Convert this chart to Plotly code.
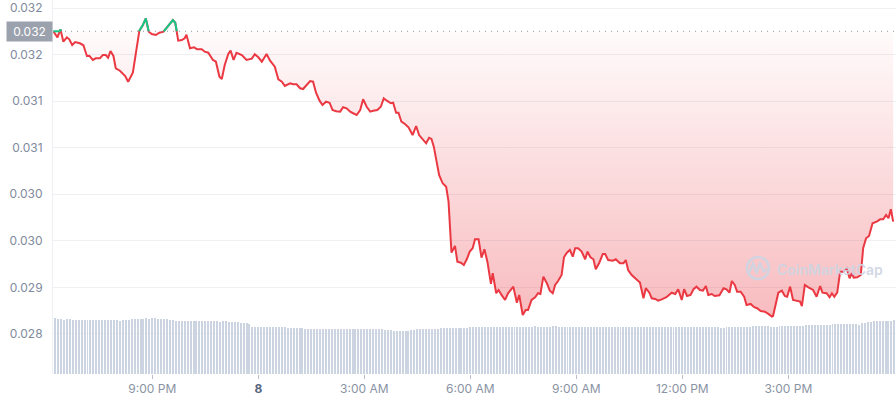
import numpy as np
import pandas as pd
import plotly.graph_objects as go

# ---------------- data ----------------
start = pd.Timestamp("2024-05-07 18:10")

# minutes after start, and price (USD)
price_minutes = [
    2, 9, 14, 19, 25, 29, 34, 39, 47, 53, 59, 63, 69, 74, 81, 86, 91, 95, 99, 104,
    108, 115, 124, 129, 137, 141, 145, 148, 154, 159, 164, 169, 176, 182, 189, 195, 200, 205, 209, 212,
    214, 220, 225, 228, 234, 241, 246, 254, 259, 265, 273, 278, 284, 288, 293, 299, 303, 308, 313, 322,
    330, 339, 344, 350, 356, 364, 370, 378, 384, 390, 395, 404, 409, 415, 421, 426, 432, 438, 443, 448,
    454, 459, 465, 471, 476, 482, 489, 494, 500, 506, 511, 517, 523, 528, 534, 540, 545, 552, 558, 563,
    569, 575, 579, 584, 588, 593, 599, 605, 612, 618, 623, 629, 635, 640, 644, 648, 653, 657, 663, 669,
    673, 675, 678, 684, 688, 694, 699, 704, 709, 714, 718, 724, 729, 734, 739, 745, 748, 754, 758, 763,
    769, 774, 783, 789, 793, 799, 804, 808, 814, 820, 825, 829, 834, 840, 845, 850, 854, 859, 865, 869,
    874, 879, 884, 888, 893, 899, 905, 909, 914, 919, 923, 929, 935, 939, 944, 952, 957, 964, 970, 974,
    978, 984, 991, 998, 1004, 1008, 1014, 1018, 1024, 1029, 1035, 1043, 1052, 1058, 1063, 1069, 1073, 1078, 1084, 1089,
    1094, 1100, 1105, 1110, 1114, 1120, 1125, 1133, 1140, 1145, 1150, 1154, 1159, 1163, 1169, 1175, 1179, 1186, 1192, 1197,
    1203, 1210, 1216, 1222, 1224, 1229, 1233, 1239, 1244, 1248, 1253, 1258, 1265, 1270, 1273, 1278, 1284, 1292, 1298, 1304,
    1308, 1315, 1320, 1324, 1328, 1333, 1338, 1343, 1349, 1354, 1358, 1361, 1367, 1373, 1377, 1382, 1387, 1393, 1400, 1406,
    1411, 1416, 1420, 1424, 1428,
]
prices = [
    0.032250, 0.032185, 0.032271, 0.032138, 0.032185, 0.032164, 0.032103, 0.032135, 0.032121, 0.032100,
    0.031985, 0.031988, 0.031942, 0.031960, 0.031960, 0.031995, 0.031995, 0.031966, 0.032038, 0.031985,
    0.031853, 0.031827, 0.031770, 0.031709, 0.031805, 0.031977, 0.032156, 0.032256, 0.032317, 0.032389,
    0.032246, 0.032221, 0.032210, 0.032235, 0.032246, 0.032293, 0.032336, 0.032371, 0.032342, 0.032235,
    0.032149, 0.032156, 0.032175, 0.032213, 0.032067, 0.032078, 0.032057, 0.032057, 0.032031, 0.032020,
    0.031942, 0.031923, 0.031762, 0.031738, 0.031888, 0.032006, 0.032042, 0.031942, 0.032020, 0.031995,
    0.031942, 0.031956, 0.032003, 0.031971, 0.031923, 0.032006, 0.031934, 0.031870, 0.031734, 0.031709,
    0.031663, 0.031692, 0.031681, 0.031681, 0.031638, 0.031630, 0.031673, 0.031716, 0.031709, 0.031591,
    0.031505, 0.031459, 0.031494, 0.031483, 0.031405, 0.031391, 0.031387, 0.031434, 0.031423, 0.031387,
    0.031370, 0.031351, 0.031405, 0.031520, 0.031440, 0.031387, 0.031397, 0.031405, 0.031440, 0.031530,
    0.031502, 0.031477, 0.031483, 0.031376, 0.031376, 0.031279, 0.031255, 0.031219, 0.031136, 0.031233,
    0.031136, 0.031090, 0.031047, 0.031107, 0.031094, 0.031011, 0.030814, 0.030707, 0.030618, 0.030581,
    0.030420, 0.030224, 0.029873, 0.029945, 0.029776, 0.029765, 0.029741, 0.029802, 0.029884, 0.029920,
    0.030017, 0.030017, 0.029819, 0.029909, 0.029776, 0.029537, 0.029652, 0.029437, 0.029472, 0.029419,
    0.029365, 0.029437, 0.029508, 0.029336, 0.029419, 0.029204, 0.029258, 0.029258, 0.029365, 0.029394,
    0.029437, 0.029429, 0.029615, 0.029544, 0.029465, 0.029437, 0.029526, 0.029569, 0.029633, 0.029823,
    0.029873, 0.029902, 0.029830, 0.029920, 0.029920, 0.029884, 0.029802, 0.029884, 0.029823, 0.029802,
    0.029695, 0.029765, 0.029859, 0.029859, 0.029794, 0.029787, 0.029802, 0.029759, 0.029759, 0.029794,
    0.029687, 0.029633, 0.029587, 0.029551, 0.029383, 0.029491, 0.029443, 0.029383, 0.029376, 0.029357,
    0.029372, 0.029394, 0.029443, 0.029429, 0.029480, 0.029365, 0.029480, 0.029408, 0.029419, 0.029480,
    0.029508, 0.029472, 0.029465, 0.029515, 0.029419, 0.029429, 0.029408, 0.029415, 0.029491, 0.029480,
    0.029443, 0.029569, 0.029526, 0.029454, 0.029454, 0.029400, 0.029311, 0.029322, 0.029287, 0.029276,
    0.029247, 0.029239, 0.029215, 0.029186, 0.029193, 0.029330, 0.029443, 0.029465, 0.029408, 0.029400,
    0.029508, 0.029365, 0.029357, 0.029347, 0.029300, 0.029526, 0.029501, 0.029472, 0.029400, 0.029515,
    0.029443, 0.029437, 0.029394, 0.029437, 0.029400, 0.029443, 0.029669, 0.029669, 0.029705, 0.029598,
    0.029652, 0.029604, 0.029609, 0.029633, 0.029920, 0.030027, 0.030052, 0.030188, 0.030206, 0.030231,
    0.030231, 0.030278, 0.030242, 0.030339, 0.030206,
]

# volume, one bar every 5 minutes from start (millions USD)
vol_step_minutes = 5
volume = [
    5.6, 5.6, 5.5, 5.5, 5.4, 5.5, 5.5, 5.4, 5.4, 5.4, 5.4, 5.4, 5.4, 5.4, 5.4, 5.4,
    5.4, 5.4, 5.4, 5.4, 5.4, 5.4, 5.4, 5.3, 5.4, 5.4, 5.4, 5.5, 5.5, 5.5, 5.5, 5.5,
    5.6, 5.5, 5.6, 5.6, 5.5, 5.5, 5.5, 5.5, 5.4, 5.4, 5.3, 5.3, 5.3, 5.3, 5.3, 5.3,
    5.3, 5.3, 5.3, 5.3, 5.3, 5.3, 5.3, 5.3, 5.3, 5.2, 5.3, 5.3, 5.2, 5.2, 5.2, 5.2,
    5.1, 5.1, 5.1, 5.0, 4.7, 4.7, 4.7, 4.7, 4.7, 4.7, 4.7, 4.7, 4.7, 4.7, 4.7, 4.7,
    4.6, 4.6, 4.6, 4.6, 4.6, 4.6, 4.5, 4.5, 4.5, 4.5, 4.5, 4.5, 4.5, 4.5, 4.5, 4.5,
    4.5, 4.5, 4.5, 4.5, 4.5, 4.5, 4.5, 4.5, 4.5, 4.5, 4.5, 4.5, 4.5, 4.5, 4.5, 4.5,
    4.5, 4.4, 4.4, 4.4, 4.35, 4.35, 4.35, 4.35, 4.35, 4.35, 4.4, 4.4, 4.5, 4.5, 4.5, 4.5,
    4.5, 4.5, 4.5, 4.5, 4.6, 4.6, 4.6, 4.6, 4.6, 4.6, 4.6, 4.6, 4.6, 4.6, 4.7, 4.7,
    4.7, 4.7, 4.7, 4.7, 4.7, 4.7, 4.7, 4.7, 4.7, 4.75, 4.75, 4.7, 4.7, 4.7, 4.75, 4.75,
    4.75, 4.75, 4.75, 4.75, 4.8, 4.75, 4.75, 4.75, 4.75, 4.75, 4.8, 4.8, 4.75, 4.75, 4.75, 4.75,
    4.75, 4.75, 4.75, 4.75, 4.7, 4.7, 4.75, 4.75, 4.75, 4.7, 4.75, 4.75, 4.75, 4.75, 4.7, 4.7,
    4.75, 4.75, 4.75, 4.75, 4.75, 4.75, 4.75, 4.7, 4.7, 4.75, 4.75, 4.75, 4.75, 4.75, 4.75, 4.75,
    4.75, 4.75, 4.7, 4.7, 4.7, 4.7, 4.75, 4.75, 4.7, 4.7, 4.75, 4.75, 4.75, 4.75, 4.75, 4.75,
    4.75, 4.7, 4.7, 4.65, 4.65, 4.7, 4.7, 4.7, 4.7, 4.7, 4.75, 4.75, 4.75, 4.75, 4.8, 4.8,
    4.8, 4.8, 4.8, 4.8, 4.75, 4.75, 4.75, 4.8, 4.8, 4.8, 4.8, 4.8, 4.8, 4.85, 4.85, 4.85,
    4.95, 4.95, 4.95, 4.95, 4.95, 4.95, 4.95, 4.95, 4.95, 5.0, 5.0, 5.0, 5.0, 5.0, 5.0, 5.0,
    5.0, 5.0, 4.95, 5.1, 5.15, 5.2, 5.25, 5.3, 5.3, 5.3, 5.3, 5.35, 5.35, 5.35, 5.4, 5.4,
]

y_tickvals = [0.0325, 0.0320, 0.0315, 0.0310, 0.0305, 0.0300, 0.0295, 0.0290]
y_ticktext = ["0.032", "0.032", "0.031", "0.031", "0.030", "0.030", "0.029", "0.028"]

x_tickvals = ["2024-05-07 21:00", "2024-05-08 00:00", "2024-05-08 03:00", "2024-05-08 06:00",
              "2024-05-08 09:00", "2024-05-08 12:00", "2024-05-08 15:00"]
x_ticktext = ["9:00 PM", "<span style='color:#58667e'><b>8</b></span>", "3:00 AM", "6:00 AM",
              "9:00 AM", "12:00 PM", "3:00 PM"]

ref_label = "0.032"

# ---------------- derived ----------------
RED = "#ea3943"
GREEN = "#16c784"
FONT = "Inter, 'Noto Sans', sans-serif"

times = [start + pd.Timedelta(minutes=m) for m in price_minutes]
base = prices[0]
vol_times = [start + pd.Timedelta(minutes=vol_step_minutes * i) for i in range(len(volume))]

# green segments: parts of the line above the opening price
t_arr = np.array(price_minutes, dtype=float)
p_arr = np.array(prices, dtype=float)
gx, gy = [], []
for i in range(len(p_arr)):
    if i > 0 and (p_arr[i - 1] - base) * (p_arr[i] - base) < 0:
        f = (base - p_arr[i - 1]) / (p_arr[i] - p_arr[i - 1])
        tc = t_arr[i - 1] + f * (t_arr[i] - t_arr[i - 1])
        gx.append(start + pd.Timedelta(minutes=float(tc)))
        gy.append(base)
        if p_arr[i] < base:
            gx.append(None)
            gy.append(None)
    if p_arr[i] >= base:
        gx.append(times[i])
        gy.append(prices[i])

fig = go.Figure()

fig.add_trace(go.Bar(
    x=vol_times, y=volume, yaxis="y2",
    marker=dict(color="#ccd4e2", line=dict(width=0)),
    width=100000, hoverinfo="skip", showlegend=False,
))

fig.add_trace(go.Scatter(
    x=[times[0], times[-1]], y=[base, base], mode="lines",
    line=dict(width=0, color="rgba(0,0,0,0)"), hoverinfo="skip", showlegend=False,
))
fig.add_trace(go.Scatter(
    x=times, y=prices, mode="lines", fill="tonexty",
    fillgradient=dict(type="vertical",
                      colorscale=[[0, "rgba(234,57,67,0.34)"], [1, "rgba(234,57,67,0.02)"]],
                      start=min(prices), stop=base),
    line=dict(color=RED, width=2), showlegend=False,
))
fig.add_trace(go.Scatter(
    x=gx, y=gy, mode="lines", line=dict(color=GREEN, width=2),
    connectgaps=False, showlegend=False, hoverinfo="skip",
))

# ---------- plot geometry (pixels) for decorations ----------
W, H = 896, 400
ML, MR, MT, MB = 53, 0, 0, 26
PW, PH = W - ML - MR, H - MT - MB


def px(xp):
    return (xp - ML) / PW


def py(yp):
    return 1 - (yp - MT) / PH


# dotted opening price line + label
fig.add_shape(type="line", xref="paper", yref="y", x0=0, x1=1, y0=base, y1=base,
              line=dict(color="#9097a3", width=1, dash="1px,5px"))
fig.add_annotation(x=0, xref="paper", xanchor="right", y=base, yref="y",
                   text=ref_label, showarrow=False, bgcolor="#9ba1ad",
                   font=dict(family=FONT, size=12, color="white"),
                   width=41, height=15, borderpad=2)

# watermark
wm = "rgba(205,213,226,0.92)"
fig.add_shape(type="circle", xref="paper", yref="paper",
              x0=px(747), x1=px(769), y0=py(279), y1=py(257),
              line=dict(color=wm, width=2.6))
wave = [(749.5, 272), (753, 263.5), (756.5, 272.5), (760, 263.5), (763.5, 271.5), (767, 269)]
path = "M " + " L ".join(f"{px(a):.5f},{py(b):.5f}" for a, b in wave)
fig.add_shape(type="path", xref="paper", yref="paper", path=path,
              line=dict(color=wm, width=2.4))
fig.add_annotation(x=px(775), xref="paper", xanchor="left", y=py(269), yref="paper",
                   yanchor="middle", text="CoinMarketCap", showarrow=False,
                   font=dict(family=FONT, size=14, color=wm, weight=600))

x_start = start + pd.Timedelta(minutes=1.4)
x_end = start + pd.Timedelta(minutes=1432.8)

fig.update_layout(
    width=W, height=H,
    margin=dict(l=ML, r=MR, t=MT, b=MB),
    paper_bgcolor="white", plot_bgcolor="white",
    font=dict(family=FONT, size=12, color="#808a9d"),
    showlegend=False, bargap=0,
    xaxis=dict(
        type="date", range=[x_start, x_end],
        tickvals=x_tickvals, ticktext=x_ticktext,
        ticks="outside", ticklen=4, tickcolor="#b8bfca", tickwidth=1,
        showgrid=False, showline=False, zeroline=False,
        tickfont=dict(family=FONT, size=12, color="#8a93a3"),
    ),
    yaxis=dict(
        range=[0.028570, 0.032586],
        tickvals=y_tickvals, ticktext=y_ticktext,
        showgrid=True, gridcolor="#eef0f4", gridwidth=1,
        showline=True, linecolor="#eef0f4", linewidth=1,
        zeroline=False, ticks="", ticklabelstandoff=7,
        tickfont=dict(family=FONT, size=12, color="#808a9d"),
    ),
    yaxis2=dict(
        overlaying="y", range=[0, 37.4], visible=False, showgrid=False,
        zeroline=False,
    ),
)

fig.write_html("out.html", config={"displayModeBar": False},
               post_script="document.body.style.margin='0';document.body.style.overflow='hidden';")
